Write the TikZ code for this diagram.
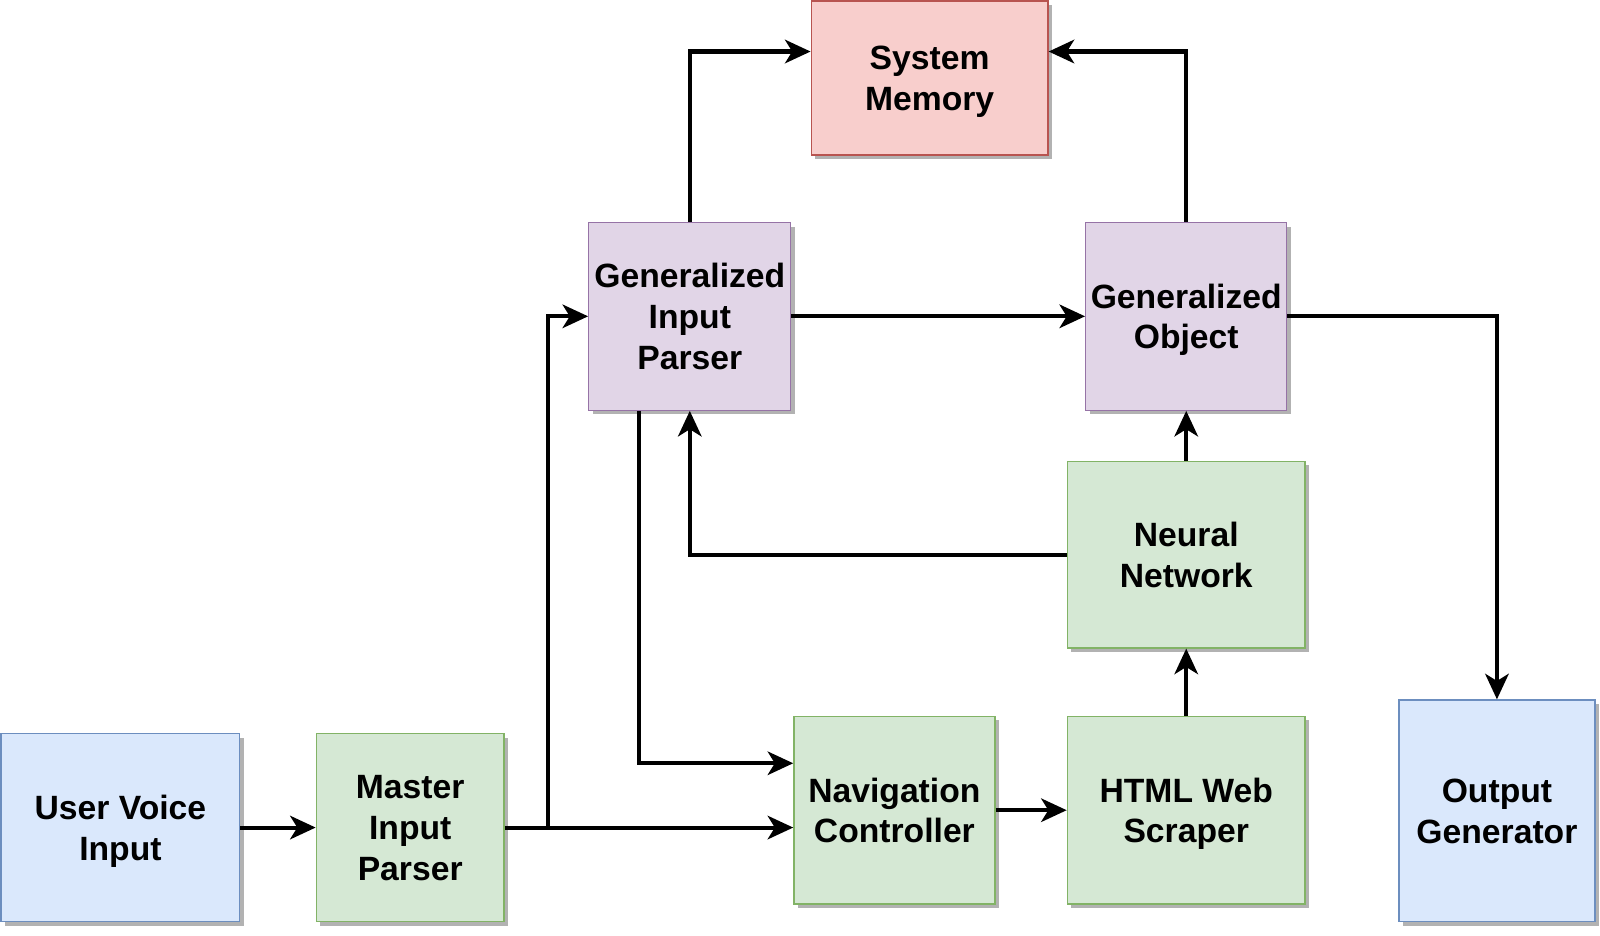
\documentclass[tikz,border=0pt]{standalone}
\usepackage{fontspec}
\setmainfont{Liberation Sans}
\usetikzlibrary{arrows.meta,shadows}
\definecolor{bfill}{HTML}{DAE8FC}\definecolor{bline}{HTML}{6C8EBF}
\definecolor{gfill}{HTML}{D5E8D4}\definecolor{gline}{HTML}{82B366}
\definecolor{pfill}{HTML}{E1D5E7}\definecolor{pline}{HTML}{9673A6}
\definecolor{rfill}{HTML}{F8CECC}\definecolor{rline}{HTML}{B85450}
\newcommand\tp{\rule{0pt}{35pt}}
\newcommand\bt{\rule[-11pt]{0pt}{11pt}}
\begin{document}
\begin{tikzpicture}[x=1pt,y=-1pt,
  box/.style={rectangle,inner sep=0pt,line width=1.3pt,align=center,
    font=\bfseries\fontsize{33}{40}\selectfont,
    drop shadow={shadow xshift=4pt,shadow yshift=-4pt,fill=black!30,opacity=1}},
  bluebox/.style={box,fill=bfill,draw=bline},
  greenbox/.style={box,fill=gfill,draw=gline},
  purplebox/.style={box,fill=pfill,draw=pline},
  redbox/.style={box,fill=rfill,draw=rline},
  arr/.style={line width=4pt,-{Stealth[length=25pt,width=23pt,inset=7pt]}}]
\useasboundingbox (0,0) rectangle (1568,917);
\node[bluebox,minimum width=234pt,minimum height=184pt] (uvi) at (118,811) {\tp User Voice\\Input\bt};
\node[greenbox,minimum width=184pt,minimum height=184pt] (mip) at (402,811) {\tp Master\\Input\\Parser\bt};
\node[greenbox,minimum width=197pt,minimum height=184pt] (nc) at (876.5,794) {\tp Navigation\\Controller\bt};
\node[greenbox,minimum width=233pt,minimum height=184pt] (hws) at (1162.5,794) {\tp HTML Web\\Scraper\bt};
\node[greenbox,minimum width=233pt,minimum height=183pt] (nn) at (1162.5,543.5) {\tp Neural\\Network\bt};
\node[purplebox,minimum width=198pt,minimum height=184pt] (gip) at (676,310) {\tp Generalized\\Input\\Parser\bt};
\node[purplebox,minimum width=197pt,minimum height=184pt] (go) at (1162.5,310) {\tp Generalized\\Object\bt};
\node[redbox,minimum width=232pt,minimum height=151pt] (sm) at (911,76.5) {\tp System\\Memory\bt};
\node[bluebox,minimum width=192pt,minimum height=217pt] (og) at (1467,794.5) {\tp Output\\Generator\bt};
\coordinate (br) at (537,811);
\draw[arr] (uvi) -- (mip);
\draw[arr] (mip.east) -- (mip.east -| nc.west);
\draw[arr] (br) |- (gip.west);
\draw[arr] ([xshift=-50pt]gip.south) |- ([yshift=46pt]nc.west);
\draw[arr] (gip.east) -- (go.west);
\draw[arr] (gip.north) |- ([yshift=26pt]sm.west);
\draw[arr] (go.north) |- ([yshift=26pt]sm.east);
\draw[arr] (go.east) -| (og.north);
\draw[arr] (nc.east) -- (hws.west);
\draw[arr] (hws.north) -- (nn.south);
\draw[arr] (nn.north) -- (go.south);
\draw[arr] (nn.west) -| (gip.south);
\end{tikzpicture}
\end{document}
